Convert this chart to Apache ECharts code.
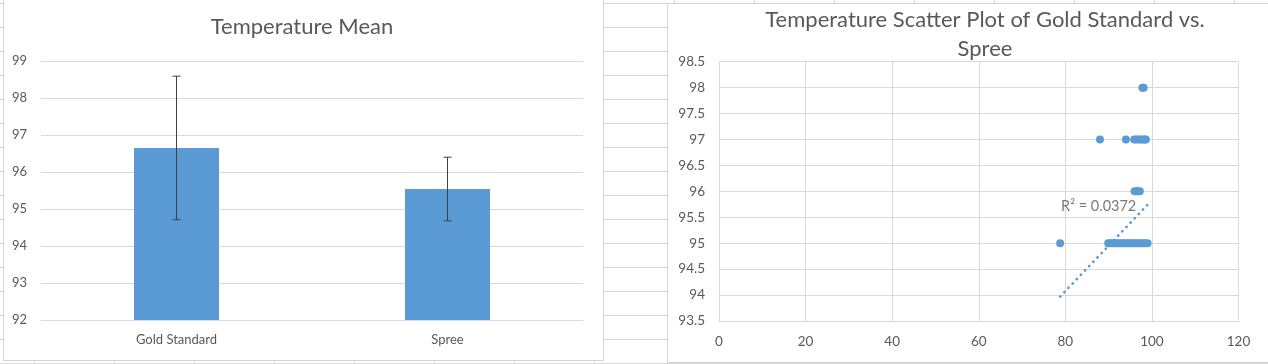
<!DOCTYPE html>
<html>
<head>
<meta charset="utf-8">
<script src="https://cdn.jsdelivr.net/npm/echarts@6/dist/echarts.min.js"></script>
<style>
  html, body { margin: 0; padding: 0; }
  body {
    width: 1268px; height: 364px; position: relative; overflow: hidden;
    background-color: #ffffff;
    background-image:
      linear-gradient(to bottom, #dadada 1px, transparent 1px),
      linear-gradient(to right, #dadada 1px, transparent 1px);
    background-size: 100% 24px, 80px 100%;
    background-position: 0 3px, 34px 0;
  }
  .frame { position: absolute; background: #ffffff; border: 1px solid #d4d4d4; box-sizing: border-box; }
  #chart { position: absolute; left: 0; top: 0; width: 1268px; height: 364px; }
</style>
</head>
<body>
<div class="frame" style="left:3px; top:-2px; width:601px; height:363px;"></div>
<div class="frame" style="left:667px; top:3px; width:610px; height:360px;"></div>
<div id="chart"></div>
<script>
// ---- Left chart: Temperature Mean ----
const barCategories = ['Gold Standard', 'Spree'];
const barMeans = [96.65, 95.54];
const barErrors = [1.94, 0.86];
const barYTicks = { min: 92, max: 99, interval: 1 };

// ---- Right chart: scatter ----
const scatterX = [
  97.8, 98.1,
  88.0, 94.0, 95.9, 96.4, 96.9, 97.4, 97.9, 98.3, 98.6,
  96.0, 96.4, 96.8, 97.2,
  78.8, 89.9, 90.4, 90.9, 91.4, 91.9, 92.4, 92.9, 93.4, 93.9, 94.4, 94.9, 95.4, 95.9, 96.4, 96.9, 97.4, 97.9, 98.4, 99.0
];
const scatterY = [
  98, 98,
  97, 97, 97, 97, 97, 97, 97, 97, 97,
  96, 96, 96, 96,
  95, 95, 95, 95, 95, 95, 95, 95, 95, 95, 95, 95, 95, 95, 95, 95, 95, 95, 95, 95
];
const trendX = [78.8, 99.1];
const trendY = [93.97, 95.75];
const rSquaredLabel = 'R² = 0.0372';
const rSquaredPos = [87.7, 95.72];
const scatterXTicks = { min: 0, max: 120, interval: 20 };
const scatterYTicks = { min: 93.5, max: 98.5, interval: 0.5 };

const FONT = 'Lato, "Open Sans", sans-serif';
const TEXT = '#595959';
const GRID = '#d9d9d9';
const BLUE = '#5b9bd5';

const chart = echarts.init(document.getElementById('chart'), null, { renderer: 'canvas' });

const scatterData = scatterX.map((x, i) => [x, scatterY[i]]);
const trendData = trendX.map((x, i) => [x, trendY[i]]);
const errData = barCategories.map((c, i) => [i, barMeans[i] - barErrors[i], barMeans[i] + barErrors[i]]);

chart.setOption({
  backgroundColor: 'transparent',
  animation: false,
  textStyle: { fontFamily: FONT },
  title: [
    {
      text: 'Temperature Mean', left: 302, top: 13, textAlign: 'center', padding: 0,
      textStyle: { fontFamily: FONT, fontSize: 22, fontWeight: 'normal', color: TEXT, lineHeight: 28 }
    },
    {
      text: 'Temperature Scatter Plot of Gold Standard vs.\nSpree', left: 985, top: 5, textAlign: 'center', padding: 0,
      textStyle: { fontFamily: FONT, fontSize: 22, fontWeight: 'normal', color: TEXT, lineHeight: 29 }
    }
  ],
  grid: [
    { left: 41, right: 685, top: 61, bottom: 44, containLabel: false },
    { left: 719, right: 29.5, top: 61.7, bottom: 43, containLabel: false }
  ],
  xAxis: [
    {
      gridIndex: 0, type: 'category', data: barCategories,
      axisLine: { lineStyle: { color: GRID } }, axisTick: { show: false },
      axisLabel: { color: TEXT, fontSize: 13, fontFamily: FONT, margin: 13 },
      splitLine: { show: false }
    },
    {
      gridIndex: 1, type: 'value', min: scatterXTicks.min, max: scatterXTicks.max, interval: scatterXTicks.interval,
      axisLine: { show: true, onZero: false, lineStyle: { color: GRID } }, axisTick: { show: false },
      axisLabel: { color: TEXT, fontSize: 13.5, fontFamily: FONT, margin: 14 },
      splitLine: { show: true, lineStyle: { color: GRID, width: 1 } }
    }
  ],
  yAxis: [
    {
      gridIndex: 0, type: 'value', min: barYTicks.min, max: barYTicks.max, interval: barYTicks.interval,
      axisLine: { show: false }, axisTick: { show: false },
      axisLabel: { color: TEXT, fontSize: 13, fontFamily: FONT, margin: 14 },
      splitLine: { show: true, lineStyle: { color: GRID, width: 1 } }
    },
    {
      gridIndex: 1, type: 'value', min: scatterYTicks.min, max: scatterYTicks.max, interval: scatterYTicks.interval,
      axisLine: { show: false }, axisTick: { show: false },
      axisLabel: { color: TEXT, fontSize: 13.5, fontFamily: FONT, margin: 14 },
      splitLine: { show: true, lineStyle: { color: GRID, width: 1 } }
    }
  ],
  series: [
    {
      type: 'bar', xAxisIndex: 0, yAxisIndex: 0, data: barMeans, barWidth: 85,
      itemStyle: { color: BLUE }, z: 2
    },
    {
      type: 'custom', xAxisIndex: 0, yAxisIndex: 0, data: errData, z: 5,
      renderItem: function (params, api) {
        const idx = api.value(0);
        const lo = api.coord([idx, api.value(1)]);
        const hi = api.coord([idx, api.value(2)]);
        const cap = 4;
        const style = { stroke: '#404040', lineWidth: 1 };
        return {
          type: 'group',
          children: [
            { type: 'line', shape: { x1: hi[0], y1: hi[1], x2: lo[0], y2: lo[1] }, style: style },
            { type: 'line', shape: { x1: hi[0] - cap, y1: hi[1], x2: hi[0] + cap, y2: hi[1] }, style: style },
            { type: 'line', shape: { x1: lo[0] - cap, y1: lo[1], x2: lo[0] + cap, y2: lo[1] }, style: style }
          ]
        };
      }
    },
    {
      type: 'scatter', xAxisIndex: 1, yAxisIndex: 1, data: scatterData,
      symbolSize: 8, itemStyle: { color: BLUE, opacity: 1 }, z: 3
    },
    {
      type: 'line', xAxisIndex: 1, yAxisIndex: 1, data: trendData, showSymbol: false, symbol: 'none',
      lineStyle: { color: BLUE, width: 2.6, type: [0.4, 5.6], cap: 'round' }, z: 4
    },
    {
      type: 'scatter', xAxisIndex: 1, yAxisIndex: 1, data: [rSquaredPos], symbolSize: 0, z: 6,
      label: { show: true, position: 'inside', formatter: rSquaredLabel, color: TEXT, fontSize: 14.5, fontFamily: FONT }
    }
  ]
});
</script>
</body>
</html>
